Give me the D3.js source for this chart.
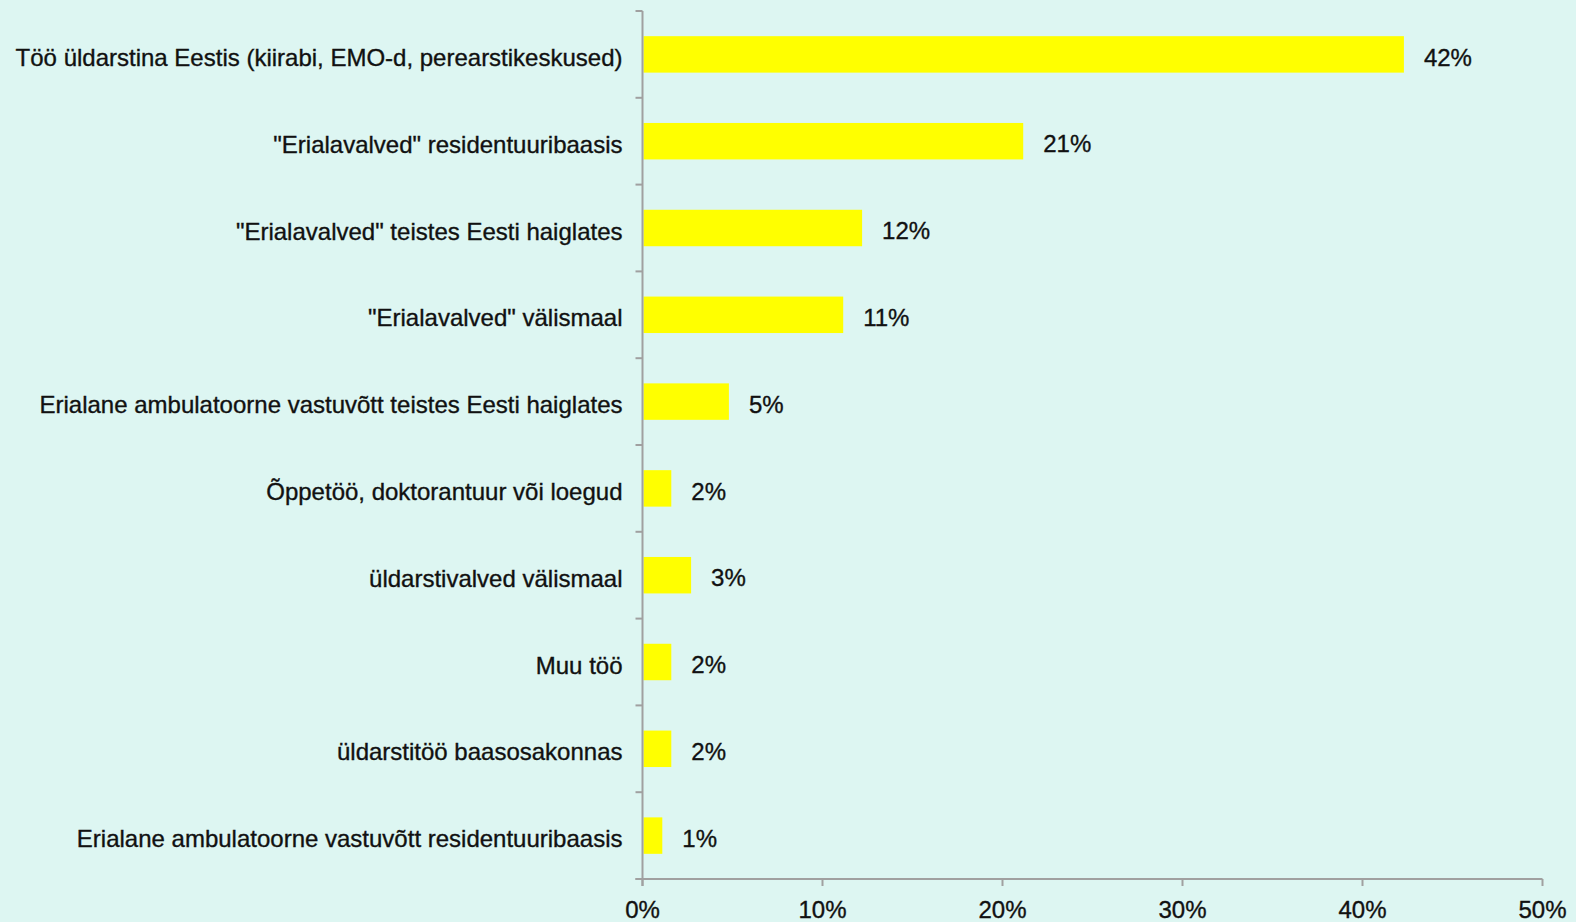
<!DOCTYPE html>
<html><head><meta charset="utf-8">
<script src="https://cdn.jsdelivr.net/npm/d3@7"></script>
<style>
html,body{margin:0;padding:0;background:#ddf6f2;}
text{font-family:"Liberation Sans",Arial,sans-serif;fill:#111;stroke:#111;stroke-width:0.35px;}
</style></head><body>
<svg id="c" width="1576" height="922"></svg>
<script>
const categories = [
  "Töö üldarstina Eestis (kiirabi, EMO-d, perearstikeskused)",
  "\"Erialavalved\" residentuuribaasis",
  "\"Erialavalved\" teistes Eesti haiglates",
  "\"Erialavalved\" välismaal",
  "Erialane ambulatoorne vastuvõtt teistes Eesti haiglates",
  "Õppetöö, doktorantuur või loegud",
  "üldarstivalved välismaal",
  "Muu töö",
  "üldarstitöö baasosakonnas",
  "Erialane ambulatoorne vastuvõtt residentuuribaasis"
];
const values = [42.3, 21.15, 12.2, 11.15, 4.8, 1.6, 2.7, 1.6, 1.6, 1.1];
const valueLabels = ["42%", "21%", "12%", "11%", "5%", "2%", "3%", "2%", "2%", "1%"];
const xTicks = [0, 10, 20, 30, 40, 50];

(function () {
const svg = d3.select("#c");
const mLeft = 642.5, mRight = 1542.5, mTop = 11, mBottom = 879;
const x = d3.scaleLinear().domain([0, 50]).range([mLeft, mRight]);
const y = d3.scaleBand().domain(categories).range([mTop, mBottom]).paddingInner(0.58).paddingOuter(0.29);

const axisColor = "#a0a0a0";
const fs = 24;

// bars
svg.append("g").selectAll("rect").data(values).join("rect")
  .attr("x", x(0) + 1)
  .attr("y", (d, i) => y(categories[i]))
  .attr("width", d => x(d) - x(0) - 1)
  .attr("height", y.bandwidth())
  .attr("fill", "#ffff00");

// value labels
svg.append("g").selectAll("text").data(values).join("text")
  .attr("x", d => x(d) + 20)
  .attr("y", (d, i) => y(categories[i]) + y.bandwidth() / 2 + 2.5)
  .attr("dy", "0.36em")
  .attr("font-size", fs)
  .text((d, i) => valueLabels[i]);

// y axis
const ya = svg.append("g");
ya.append("line").attr("x1", mLeft).attr("x2", mLeft).attr("y1", mTop).attr("y2", mBottom + 7)
  .attr("stroke", axisColor).attr("stroke-width", 2);
const step = (mBottom - mTop) / categories.length;
const boundaries = d3.range(categories.length + 1).map(i => mTop + i * step);
ya.selectAll("line.t").data(boundaries).join("line").attr("class", "t")
  .attr("x1", mLeft - 7).attr("x2", mLeft).attr("y1", d => d).attr("y2", d => d)
  .attr("stroke", axisColor).attr("stroke-width", 2);
ya.selectAll("text").data(categories).join("text")
  .attr("x", mLeft - 20)
  .attr("y", d => y(d) + y.bandwidth() / 2 + 3)
  .attr("dy", "0.36em")
  .attr("text-anchor", "end")
  .attr("font-size", fs)
  .text(d => d);

// x axis
const xa = svg.append("g").attr("transform", `translate(0,${mBottom})`);
xa.append("line").attr("x1", mLeft - 7).attr("x2", mRight).attr("y1", 0).attr("y2", 0)
  .attr("stroke", axisColor).attr("stroke-width", 2);
xa.selectAll("line.t").data(xTicks).join("line").attr("class", "t")
  .attr("x1", d => x(d)).attr("x2", d => x(d)).attr("y1", 0).attr("y2", 7)
  .attr("stroke", axisColor).attr("stroke-width", 2);
xa.selectAll("text").data(xTicks).join("text")
  .attr("x", d => x(d))
  .attr("y", 30)
  .attr("dy", "0.36em")
  .attr("text-anchor", "middle")
  .attr("font-size", fs)
  .text(d => d + "%");
})();
</script>
</body></html>
